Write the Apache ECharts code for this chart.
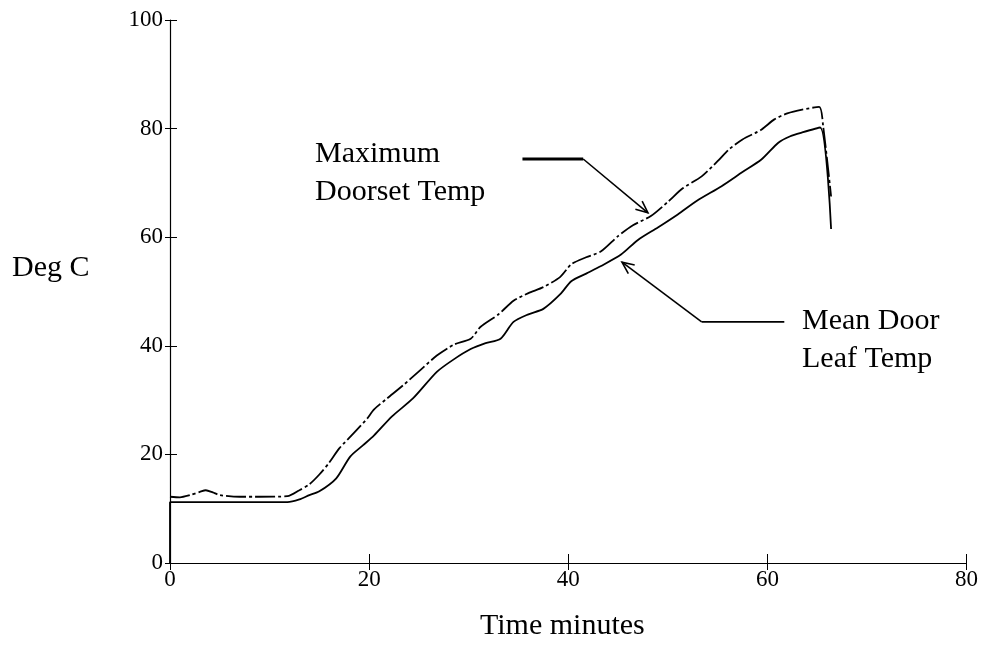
<!DOCTYPE html>
<html>
<head>
<meta charset="utf-8">
<script src="https://cdn.jsdelivr.net/npm/echarts@6/dist/echarts.min.js"></script>
<style>html,body{margin:0;padding:0;background:#fff}#c{width:981px;height:647px}</style>
</head>
<body>
<div id="c"></div>
<script>
// ---- data ----
const xTicks = [0, 20, 40, 60, 80];
const yTicks = [0, 20, 40, 60, 80, 100];

const maxDoorsetTemp = [
  [0,12.2],[1,12.1],[2,12.5],[3,13.1],[3.6,13.4],[4.3,13.0],[5,12.5],[7,12.2],[9,12.2],[11.8,12.3],
  [13,13.4],[14,14.5],[15,16.3],[16,18.5],[17,21.1],[18.5,24],[19.8,26.6],[20.5,28.3],[21.8,30.3],
  [23.4,32.7],[25,35.3],[26.8,38.2],[28.5,40.2],[30.2,41.3],[31.2,43.5],[33,45.8],[34.5,48.3],
  [36,49.7],[37.5,50.8],[39.2,52.7],[40.3,55.0],[41.8,56.3],[43.3,57.4],[45,60.2],[46.5,62.2],
  [48.3,63.9],[50,66.5],[51.5,69.0],[53.4,71.2],[55,74],[56.1,76.1],[57.5,78],[59.4,79.8],
  [60.7,81.7],[62,82.8],[63.5,83.5],[65.2,84],[65.6,80.5],[66.4,67.5]
];
const meanLeafTemp = [
  [0,0],[0,11.2],[6,11.2],[11.8,11.2],[13,11.7],[14,12.5],[15,13.2],[16.7,15.6],[18.1,19.6],
  [19.4,21.7],[20.5,23.5],[22.3,27],[24.4,30.3],[26.8,35.2],[28.5,37.5],[30.2,39.4],[31.7,40.5],
  [33.2,41.3],[34.5,44.4],[36,45.8],[37.5,46.8],[39.2,49.5],[40.3,51.9],[41.8,53.3],[43.3,54.7],
  [45.3,56.8],[47,59.5],[49,61.8],[51,64.2],[53,66.8],[55.4,69.4],[57.5,72],[59.4,74.3],
  [61.1,77.4],[62.3,78.6],[63.5,79.3],[65.3,80.2],[66.4,61.5]
];
// annotation arrows (data coordinates: start, elbow, tip)
const maxArrow = [35.4, 74.4, 41.5, 74.4, 48.0, 64.5];
const meanArrow = [61.7, 44.4, 53.4, 44.4, 45.4, 55.4];

const labelMax = 'Maximum\nDoorset Temp';
const labelMean = 'Mean Door\nLeaf Temp';
const yName = 'Deg C';
const xName = 'Time minutes';

// ---- chart ----
const FONT = '"Liberation Serif", "Times New Roman", serif';
const chart = echarts.init(document.getElementById('c'), null, {renderer: 'canvas'});

function axisX(main) {
  return {
    type: 'value', min: 0, max: 80, interval: 20, position: 'bottom', gridIndex: 0, offset: 0,
    axisLine: {show: true, onZero: false, lineStyle: {color: '#000', width: 1.2, opacity: main ? 1 : 0}},
    axisTick: {show: true, inside: !main, length: main ? 7 : 9, lineStyle: {color: '#000', width: 1, opacity: 1}},
    axisLabel: {show: main, color: '#000', fontFamily: FONT, fontSize: 23, margin: 5,
      formatter: v => xTicks.includes(v) ? String(v) : ''},
    splitLine: {show: false}
  };
}
function axisY(main) {
  return {
    type: 'value', min: 0, max: 100, interval: 20, position: 'left', gridIndex: 0, offset: 0,
    axisLine: {show: true, onZero: false, lineStyle: {color: '#000', width: 1.2, opacity: main ? 1 : 0}},
    axisTick: {show: true, inside: !main, length: main ? 5 : 7, lineStyle: {color: '#000', width: 1, opacity: 1}},
    axisLabel: {show: main, color: '#000', fontFamily: FONT, fontSize: 23, margin: 7,
      formatter: v => yTicks.includes(v) ? String(v) : ''},
    splitLine: {show: false}
  };
}

function arrowRender(params, api) {
  const p1 = api.coord([api.value(0), api.value(1)]);
  const p2 = api.coord([api.value(2), api.value(3)]);
  const p3 = api.coord([api.value(4), api.value(5)]);
  const ang = Math.atan2(p3[1] - p2[1], p3[0] - p2[0]);
  const L = 13, spread = 0.42;
  const a1 = [p3[0] - L * Math.cos(ang - spread), p3[1] - L * Math.sin(ang - spread)];
  const a2 = [p3[0] - L * Math.cos(ang + spread), p3[1] - L * Math.sin(ang + spread)];
  return {
    type: 'group',
    children: [
      {type: 'polyline', shape: {points: [p1, p2]}, style: {stroke: '#000', lineWidth: params.dataIndex === 0 ? 3 : 1.6, fill: null}},
      {type: 'polyline', shape: {points: [p2, p3]}, style: {stroke: '#000', lineWidth: 1.6, fill: null}},
      {type: 'polyline', shape: {points: [a1, p3, a2]}, style: {stroke: '#000', lineWidth: 1.6, fill: null}}
    ]
  };
}

const option = {
  backgroundColor: '#fff',
  animation: false,
  grid: {left: 170, right: 14, top: 20, bottom: 84, containLabel: false},
  xAxis: [axisX(true), axisX(false)],
  yAxis: [axisY(true), axisY(false)],
  series: [
    {
      name: 'Maximum Doorset Temp', type: 'line', data: maxDoorsetTemp, showSymbol: false, symbol: 'none',
      xAxisIndex: 0, yAxisIndex: 0, smooth: 0.25,
      lineStyle: {color: '#000', width: 1.8, type: [20, 3, 3, 3]}
    },
    {
      name: 'Mean Door Leaf Temp', type: 'line', data: meanLeafTemp, showSymbol: false, symbol: 'none',
      xAxisIndex: 0, yAxisIndex: 0, smooth: 0.25,
      lineStyle: {color: '#000', width: 1.8}
    },
    {
      type: 'custom', xAxisIndex: 0, yAxisIndex: 0, renderItem: arrowRender,
      encode: {x: [0, 2, 4], y: [1, 3, 5]},
      data: [maxArrow, meanArrow], silent: true
    },
    // invisible series bound to the secondary axes so their ticks are laid out
    {
      type: 'line', xAxisIndex: 1, yAxisIndex: 1, data: [], silent: true
    }
  ],
  graphic: [
    {type: 'text', left: 12, top: 253, style: {text: yName, font: '30px ' + FONT, fill: '#000'}},
    {type: 'text', left: 480, top: 611, style: {text: xName, font: '30px ' + FONT, fill: '#000'}},
    {type: 'text', left: 315, top: 135, style: {text: labelMax, font: '30px ' + FONT, lineHeight: 38, fill: '#000'}},
    {type: 'text', left: 802, top: 302, style: {text: labelMean, font: '30px ' + FONT, lineHeight: 38, fill: '#000'}}
  ]
};
chart.setOption(option);
</script>
</body>
</html>
